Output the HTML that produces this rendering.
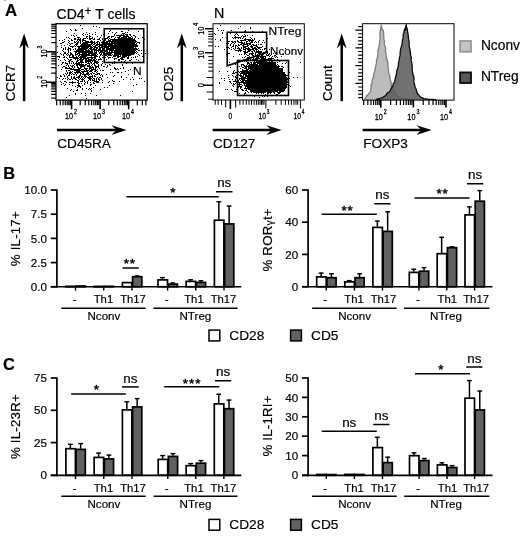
<!DOCTYPE html>
<html><head><meta charset="utf-8"><title>Figure</title>
<style>html,body{margin:0;padding:0;background:#fff}svg{display:block;will-change:transform;opacity:0.999}text{font-family:"Liberation Sans",sans-serif;fill:#000;stroke:#000;stroke-width:.18px}.tp text{stroke-width:.3px}.st{stroke-width:.42px}</style></head>
<body>
<svg width="520" height="555" viewBox="0 0 520 555">
<rect width="520" height="555" fill="#fff"/>
<text x="4.9" y="16.4" font-size="16.8" text-anchor="start" font-weight="bold" fill="#000" >A</text>
<rect x="4.4" y="0" width="1.2" height="0.9" fill="#666"/>
<text x="56.6" y="18.5" font-size="14">CD4<tspan dy="-3.6" font-size="12">+</tspan><tspan dy="3.6"> T cells</tspan></text>
<path d="M80 25.5h1M93 26.5h1M96 26.5h1M99 27.5h1M82 28.5h1M104 28.5h1M134 28.5h1M70 29.5h1M75 29.5h1M71 30.5h1M75 30.5h2M110 30.5h1M128 30.5h1M66 31.5h1M109 31.5h1M121 31.5h2M138 31.5h1M86 32.5h1M95 32.5h1M112 32.5h1M116 32.5h1M125 32.5h1M127 32.5h1M74 33.5h1M83 33.5h1M89 33.5h1M108 33.5h1M115 33.5h1M122 33.5h3M82 34.5h1M85 34.5h1M87 34.5h1M92 34.5h1M95 34.5h1M103 34.5h1M114 34.5h1M121 34.5h1M123 34.5h1M125 34.5h3M129 34.5h2M71 35.5h1M73 35.5h1M76 35.5h1M83 35.5h1M89 35.5h1M101 35.5h1M114 35.5h1M116 35.5h9M126 35.5h2M130 35.5h1M133 35.5h2M74 36.5h1M86 36.5h2M89 36.5h2M97 36.5h1M104 36.5h1M108 36.5h2M111 36.5h3M119 36.5h2M123 36.5h6M131 36.5h1M135 36.5h1M66 37.5h1M68 37.5h1M77 37.5h3M86 37.5h1M89 37.5h1M92 37.5h1M100 37.5h1M107 37.5h2M111 37.5h1M115 37.5h1M117 37.5h3M121 37.5h6M128 37.5h3M132 37.5h1M135 37.5h1M142 37.5h1M69 38.5h1M74 38.5h2M78 38.5h1M80 38.5h1M83 38.5h3M87 38.5h1M89 38.5h4M94 38.5h1M99 38.5h1M102 38.5h1M105 38.5h3M109 38.5h1M114 38.5h1M118 38.5h15M134 38.5h1M138 38.5h1M64 39.5h1M71 39.5h1M74 39.5h2M77 39.5h4M82 39.5h2M89 39.5h2M93 39.5h2M97 39.5h3M102 39.5h1M105 39.5h1M108 39.5h1M110 39.5h25M144 39.5h1M59 40.5h1M62 40.5h1M68 40.5h1M71 40.5h2M77 40.5h1M79 40.5h2M82 40.5h4M91 40.5h1M100 40.5h1M103 40.5h1M105 40.5h1M108 40.5h3M112 40.5h24M64 41.5h1M69 41.5h1M74 41.5h1M76 41.5h1M78 41.5h1M80 41.5h1M82 41.5h1M85 41.5h4M90 41.5h3M94 41.5h1M97 41.5h2M102 41.5h2M106 41.5h31M62 42.5h2M68 42.5h1M74 42.5h2M77 42.5h2M80 42.5h1M83 42.5h12M96 42.5h2M99 42.5h1M101 42.5h3M105 42.5h3M109 42.5h1M111 42.5h25M137 42.5h3M60 43.5h2M69 43.5h1M71 43.5h2M76 43.5h2M80 43.5h1M82 43.5h6M91 43.5h2M94 43.5h2M97 43.5h1M99 43.5h1M102 43.5h33M136 43.5h1M139 43.5h1M67 44.5h1M70 44.5h1M75 44.5h3M81 44.5h11M93 44.5h2M96 44.5h17M114 44.5h23M61 45.5h1M64 45.5h1M69 45.5h1M74 45.5h1M76 45.5h1M80 45.5h11M92 45.5h1M95 45.5h3M99 45.5h4M104 45.5h3M108 45.5h30M57 46.5h1M70 46.5h4M75 46.5h1M77 46.5h15M93 46.5h3M98 46.5h2M101 46.5h37M61 47.5h1M65 47.5h1M68 47.5h1M72 47.5h1M78 47.5h2M81 47.5h8M90 47.5h3M94 47.5h4M99 47.5h4M104 47.5h5M110 47.5h24M135 47.5h1M63 48.5h1M65 48.5h1M68 48.5h3M75 48.5h1M78 48.5h10M89 48.5h3M93 48.5h2M96 48.5h2M99 48.5h2M102 48.5h3M106 48.5h31M138 48.5h1M63 49.5h1M65 49.5h1M67 49.5h2M70 49.5h1M73 49.5h1M75 49.5h1M77 49.5h10M88 49.5h1M90 49.5h7M98 49.5h3M102 49.5h3M106 49.5h8M115 49.5h23M62 50.5h1M68 50.5h1M70 50.5h1M76 50.5h8M85 50.5h5M91 50.5h2M94 50.5h10M105 50.5h3M109 50.5h27M138 50.5h2M141 50.5h1M143 50.5h1M63 51.5h1M68 51.5h1M74 51.5h19M94 51.5h1M96 51.5h1M98 51.5h1M100 51.5h3M104 51.5h4M109 51.5h1M111 51.5h2M114 51.5h21M136 51.5h1M143 51.5h1M57 52.5h1M64 52.5h2M68 52.5h1M70 52.5h1M75 52.5h2M78 52.5h15M94 52.5h3M99 52.5h6M106 52.5h30M137 52.5h1M60 53.5h1M64 53.5h2M67 53.5h1M70 53.5h2M75 53.5h1M77 53.5h3M82 53.5h5M88 53.5h9M99 53.5h1M101 53.5h1M103 53.5h1M105 53.5h7M114 53.5h21M136 53.5h1M141 53.5h1M145 53.5h1M61 54.5h1M63 54.5h1M66 54.5h1M68 54.5h1M70 54.5h3M75 54.5h3M79 54.5h11M91 54.5h5M97 54.5h1M100 54.5h2M103 54.5h8M112 54.5h1M114 54.5h20M138 54.5h1M63 55.5h1M67 55.5h1M69 55.5h2M72 55.5h2M75 55.5h1M78 55.5h2M81 55.5h16M100 55.5h1M102 55.5h1M105 55.5h2M108 55.5h4M113 55.5h6M120 55.5h1M122 55.5h9M139 55.5h1M57 56.5h3M64 56.5h1M69 56.5h1M72 56.5h2M76 56.5h1M78 56.5h1M80 56.5h7M91 56.5h1M94 56.5h4M99 56.5h1M107 56.5h1M113 56.5h3M117 56.5h4M122 56.5h5M128 56.5h1M135 56.5h1M137 56.5h1M142 56.5h1M59 57.5h1M63 57.5h2M66 57.5h1M69 57.5h9M79 57.5h7M87 57.5h9M99 57.5h1M102 57.5h4M108 57.5h3M112 57.5h1M117 57.5h2M121 57.5h4M127 57.5h2M131 57.5h1M133 57.5h1M135 57.5h1M67 58.5h1M73 58.5h6M80 58.5h2M83 58.5h6M91 58.5h2M94 58.5h2M100 58.5h1M108 58.5h1M114 58.5h3M120 58.5h3M127 58.5h2M58 59.5h1M64 59.5h1M68 59.5h1M70 59.5h2M75 59.5h1M77 59.5h1M79 59.5h5M85 59.5h2M88 59.5h4M93 59.5h2M96 59.5h1M98 59.5h4M104 59.5h1M106 59.5h1M114 59.5h1M118 59.5h2M121 59.5h3M131 59.5h1M136 59.5h1M60 60.5h1M65 60.5h1M69 60.5h2M77 60.5h2M80 60.5h3M85 60.5h11M98 60.5h1M118 60.5h2M125 60.5h1M129 60.5h2M138 60.5h1M68 61.5h2M71 61.5h2M76 61.5h2M80 61.5h3M85 61.5h6M92 61.5h1M94 61.5h4M102 61.5h1M104 61.5h1M114 61.5h1M121 61.5h1M124 61.5h1M62 62.5h2M65 62.5h1M69 62.5h1M73 62.5h1M76 62.5h1M78 62.5h6M85 62.5h2M88 62.5h1M90 62.5h2M94 62.5h5M104 62.5h1M107 62.5h1M111 62.5h1M129 62.5h1M131 62.5h1M139 62.5h1M62 63.5h1M65 63.5h3M69 63.5h1M71 63.5h1M73 63.5h1M75 63.5h5M81 63.5h1M87 63.5h3M91 63.5h1M93 63.5h2M96 63.5h2M102 63.5h1M112 63.5h1M114 63.5h1M126 63.5h1M132 63.5h1M61 64.5h1M67 64.5h1M74 64.5h1M76 64.5h8M85 64.5h2M89 64.5h1M92 64.5h1M94 64.5h1M98 64.5h1M101 64.5h1M105 64.5h1M109 64.5h1M122 64.5h1M58 65.5h1M66 65.5h1M68 65.5h1M70 65.5h1M72 65.5h2M76 65.5h2M79 65.5h7M87 65.5h3M91 65.5h1M94 65.5h2M98 65.5h1M101 65.5h1M107 65.5h1M110 65.5h1M122 65.5h1M63 66.5h2M68 66.5h1M71 66.5h2M74 66.5h1M77 66.5h1M80 66.5h5M87 66.5h4M92 66.5h1M95 66.5h4M103 66.5h2M107 66.5h1M62 67.5h1M65 67.5h2M69 67.5h1M72 67.5h1M74 67.5h1M77 67.5h2M80 67.5h2M84 67.5h1M89 67.5h5M95 67.5h2M98 67.5h1M106 67.5h1M114 67.5h1M123 67.5h1M135 67.5h1M65 68.5h7M73 68.5h1M78 68.5h3M84 68.5h4M89 68.5h3M93 68.5h1M95 68.5h1M99 68.5h1M114 68.5h2M117 68.5h1M120 68.5h1M123 68.5h1M61 69.5h1M70 69.5h10M81 69.5h3M85 69.5h2M89 69.5h1M91 69.5h5M97 69.5h1M110 69.5h1M115 69.5h2M118 69.5h1M130 69.5h1M66 70.5h1M68 70.5h2M74 70.5h7M84 70.5h1M86 70.5h3M90 70.5h3M95 70.5h2M100 70.5h1M102 70.5h2M128 70.5h1M66 71.5h1M70 71.5h1M72 71.5h1M76 71.5h4M81 71.5h7M89 71.5h3M94 71.5h2M97 71.5h1M125 71.5h1M67 72.5h1M69 72.5h3M74 72.5h7M82 72.5h2M87 72.5h2M92 72.5h1M96 72.5h1M110 72.5h1M112 72.5h1M117 72.5h2M121 72.5h1M65 73.5h1M67 73.5h1M69 73.5h2M72 73.5h1M75 73.5h1M77 73.5h1M80 73.5h2M83 73.5h1M86 73.5h3M90 73.5h2M93 73.5h2M97 73.5h3M63 74.5h1M66 74.5h1M69 74.5h1M71 74.5h1M73 74.5h2M76 74.5h1M80 74.5h1M82 74.5h8M91 74.5h1M95 74.5h3M99 74.5h1M101 74.5h1M106 74.5h1M128 74.5h1M60 75.5h1M64 75.5h1M68 75.5h2M76 75.5h1M79 75.5h2M84 75.5h2M88 75.5h1M92 75.5h1M94 75.5h1M100 75.5h1M102 75.5h1M114 75.5h1M60 76.5h2M64 76.5h1M67 76.5h1M71 76.5h1M74 76.5h1M78 76.5h2M81 76.5h2M84 76.5h3M89 76.5h4M94 76.5h2M102 76.5h1M113 76.5h1M121 76.5h1M57 77.5h1M67 77.5h1M71 77.5h1M73 77.5h2M76 77.5h4M81 77.5h1M83 77.5h1M85 77.5h1M87 77.5h4M92 77.5h1M97 77.5h1M99 77.5h2M107 77.5h1M121 77.5h1M126 77.5h1M132 77.5h1M59 78.5h1M63 78.5h1M65 78.5h1M68 78.5h1M71 78.5h1M73 78.5h3M78 78.5h1M80 78.5h1M82 78.5h1M84 78.5h1M88 78.5h4M93 78.5h2M96 78.5h1M98 78.5h1M101 78.5h1M139 78.5h1M141 78.5h1M62 79.5h1M67 79.5h1M69 79.5h2M72 79.5h1M75 79.5h2M79 79.5h1M81 79.5h3M89 79.5h2M92 79.5h1M94 79.5h1M96 79.5h1M98 79.5h2M101 79.5h1M123 79.5h1M130 79.5h1M133 79.5h1M77 80.5h2M82 80.5h1M84 80.5h1M88 80.5h1M90 80.5h1M92 80.5h3M96 80.5h1M99 80.5h1M102 80.5h1M112 80.5h1M60 81.5h1M64 81.5h2M72 81.5h1M78 81.5h1M80 81.5h3M84 81.5h1M87 81.5h1M94 81.5h5M109 81.5h1M113 81.5h2M119 81.5h1M144 81.5h1M61 82.5h1M66 82.5h1M69 82.5h7M77 82.5h2M85 82.5h1M87 82.5h1M90 82.5h1M93 82.5h1M96 82.5h3M102 82.5h1M108 82.5h1M63 83.5h1M72 83.5h1M78 83.5h2M81 83.5h1M84 83.5h1M87 83.5h1M93 83.5h2M113 83.5h1M61 84.5h1M65 84.5h1M69 84.5h1M78 84.5h1M84 84.5h1M90 84.5h2M136 84.5h1M64 85.5h1M72 85.5h1M77 85.5h3M82 85.5h1M90 85.5h1M95 85.5h1M109 85.5h1M133 85.5h1M75 86.5h1M78 86.5h3M77 87.5h1M80 87.5h1M93 87.5h1M104 87.5h1M107 87.5h1M67 88.5h1M82 88.5h1M86 88.5h1M89 88.5h1M91 88.5h1M71 89.5h1M77 89.5h1M82 89.5h1M88 89.5h1M90 89.5h1M100 89.5h1M70 90.5h1M76 90.5h2M91 90.5h1M73 91.5h1M91 91.5h1M132 91.5h1M75 93.5h1M81 93.5h1M85 93.5h1M90 93.5h1M75 94.5h1M69 95.5h1M85 95.5h1M96 95.5h1M120 95.5h1M66 97.5h1M86 98.5h1" stroke="#000" stroke-width="1" fill="none" shape-rendering="crispEdges"/>
<rect x="56.0" y="23.7" width="91.2" height="76.4" fill="none" stroke="#000" stroke-width="1.25"/>
<rect x="104.25" y="28.75" width="39.5" height="33.75" fill="none" stroke="#000" stroke-width="1.6"/>
<g transform="translate(132.9 75.1) scale(1.12 1)"><text x="0" y="0" font-size="10.7">N</text></g>
<path d="M56.67 100.1v5.2M60.24 100.1v5.2M63.01 100.1v5.2M65.27 100.1v5.2M67.18 100.1v5.2M68.83 100.1v5.2M70.29 100.1v5.2M80.19 100.1v5.2M85.22 100.1v5.2M88.79 100.1v5.2M91.56 100.1v5.2M93.82 100.1v5.2M95.73 100.1v5.2M97.38 100.1v5.2M98.84 100.1v5.2M108.74 100.1v5.2M113.77 100.1v5.2M117.34 100.1v5.2M120.11 100.1v5.2M122.37 100.1v5.2M124.28 100.1v5.2M125.93 100.1v5.2M127.39 100.1v5.2M137.29 100.1v5.2M142.32 100.1v5.2M145.89 100.1v5.2" stroke="#000" stroke-width="1.2" fill="none"/>
<path d="M71.6 100.1v9.2M100.15 100.1v9.2M128.7 100.1v9.2" stroke="#000" stroke-width="1.6" fill="none"/>
<path d="M56 98.1h-4.8M56 94.3h-4.8M56 91.35h-4.8M56 88.94h-4.8M56 86.91h-4.8M56 85.15h-4.8M56 83.59h-4.8M56 73.05h-4.8M56 67.7h-4.8M56 63.9h-4.8M56 60.95h-4.8M56 58.54h-4.8M56 56.51h-4.8M56 54.75h-4.8M56 53.19h-4.8M56 42.65h-4.8M56 37.3h-4.8M56 33.5h-4.8M56 30.55h-4.8M56 28.14h-4.8M56 26.11h-4.8M56 24.35h-4.8" stroke="#000" stroke-width="1.2" fill="none"/>
<path d="M56 82.2h-9.8M56 51.8h-9.8" stroke="#000" stroke-width="1.6" fill="none"/>
<g class="tp" transform="translate(69 119.3) scale(0.77 1)"><text x="0" y="0" font-size="9.5" text-anchor="middle">10</text><text x="6.48" y="-5.32" font-size="6.84">2</text></g>
<g class="tp" transform="translate(97.1 119.3) scale(0.77 1)"><text x="0" y="0" font-size="9.5" text-anchor="middle">10</text><text x="6.48" y="-5.32" font-size="6.84">3</text></g>
<g class="tp" transform="translate(126.1 119.3) scale(0.77 1)"><text x="0" y="0" font-size="9.5" text-anchor="middle">10</text><text x="6.48" y="-5.32" font-size="6.84">4</text></g>
<g class="tp" transform="translate(47.3 53.5) rotate(-90) scale(0.77 1)"><text x="0" y="0" font-size="9.5" text-anchor="middle">10</text><text x="6.48" y="-5.32" font-size="6.84">3</text></g>
<g class="tp" transform="translate(47.3 83.7) rotate(-90) scale(0.77 1)"><text x="0" y="0" font-size="9.5" text-anchor="middle">10</text><text x="6.48" y="-5.32" font-size="6.84">2</text></g>
<line x1="24.1" y1="101.1" x2="24.1" y2="42.6" stroke="#000" stroke-width="2.5" />
<path d="M24.1 33.4L19.2 48.6L24.1 43.6L29 48.6Z" fill="#000"/>
<text x="15.3" y="101.3" font-size="13.4" text-anchor="start" transform="rotate(-90 15.3 101.3)" fill="#000" >CCR7</text>
<line x1="56.9" y1="130.1" x2="117.4" y2="130.1" stroke="#000" stroke-width="2.5" />
<path d="M126.6 130.1L111.4 125.2L116.4 130.1L111.4 135Z" fill="#000"/>
<text x="57.3" y="148.2" font-size="13.6" text-anchor="start" fill="#000" >CD45RA</text>
<text x="213.9" y="18.4" font-size="14.3" text-anchor="start" fill="#000" >N</text>
<path d="M220 25.5h1M240 26.5h1M250 27.5h1M217 28.5h1M238 28.5h1M250 28.5h1M218 30.5h1M221 30.5h1M223 30.5h1M231 30.5h1M245 30.5h1M244 31.5h2M252 31.5h1M262 31.5h1M222 32.5h1M237 32.5h1M243 32.5h1M250 32.5h1M214 33.5h1M222 33.5h1M230 33.5h1M236 33.5h1M215 34.5h1M235 34.5h1M237 34.5h1M244 34.5h1M234 35.5h1M238 35.5h1M242 35.5h1M245 35.5h1M247 35.5h1M252 35.5h1M235 36.5h1M241 36.5h1M243 36.5h3M222 37.5h1M232 37.5h1M234 37.5h7M243 37.5h1M250 37.5h1M233 38.5h1M235 38.5h1M238 38.5h1M240 38.5h1M242 38.5h1M245 38.5h1M251 38.5h1M254 38.5h1M267 38.5h1M215 39.5h1M220 39.5h1M244 39.5h7M252 39.5h1M254 39.5h1M220 40.5h1M237 40.5h1M240 40.5h6M248 40.5h6M259 40.5h1M263 40.5h1M228 41.5h2M231 41.5h2M234 41.5h2M237 41.5h2M241 41.5h1M246 41.5h2M249 41.5h1M251 41.5h2M255 41.5h1M258 41.5h1M232 42.5h2M235 42.5h1M238 42.5h5M244 42.5h1M246 42.5h1M250 42.5h3M254 42.5h1M256 42.5h1M258 42.5h1M262 42.5h1M264 42.5h1M226 43.5h1M228 43.5h1M231 43.5h1M234 43.5h1M241 43.5h4M246 43.5h5M230 44.5h1M233 44.5h1M238 44.5h1M240 44.5h2M243 44.5h5M249 44.5h2M252 44.5h2M256 44.5h1M258 44.5h1M260 44.5h2M266 44.5h1M230 45.5h1M233 45.5h1M235 45.5h2M238 45.5h2M242 45.5h2M247 45.5h2M251 45.5h1M253 45.5h4M215 46.5h1M218 46.5h1M227 46.5h1M232 46.5h2M235 46.5h1M237 46.5h1M243 46.5h5M250 46.5h3M256 46.5h2M262 46.5h1M226 47.5h1M228 47.5h1M231 47.5h1M235 47.5h1M238 47.5h1M241 47.5h1M243 47.5h3M248 47.5h1M251 47.5h2M254 47.5h2M257 47.5h5M266 47.5h1M229 48.5h1M233 48.5h1M235 48.5h1M237 48.5h3M241 48.5h1M243 48.5h1M245 48.5h5M252 48.5h5M258 48.5h2M264 48.5h3M285 48.5h1M224 49.5h1M231 49.5h1M234 49.5h1M239 49.5h2M243 49.5h3M247 49.5h7M255 49.5h3M260 49.5h1M262 49.5h1M264 49.5h1M266 49.5h1M269 49.5h1M235 50.5h7M245 50.5h1M248 50.5h3M253 50.5h2M256 50.5h1M258 50.5h1M238 51.5h1M240 51.5h1M243 51.5h3M247 51.5h3M251 51.5h2M254 51.5h1M256 51.5h6M265 51.5h3M244 52.5h4M252 52.5h1M255 52.5h7M263 52.5h2M266 52.5h2M276 52.5h1M228 53.5h2M244 53.5h2M249 53.5h5M255 53.5h1M258 53.5h3M262 53.5h1M264 53.5h1M267 53.5h1M269 53.5h1M273 53.5h1M226 54.5h1M239 54.5h1M241 54.5h1M244 54.5h1M246 54.5h1M249 54.5h1M251 54.5h2M255 54.5h1M257 54.5h1M260 54.5h1M262 54.5h2M266 54.5h1M268 54.5h2M271 54.5h1M283 54.5h1M247 55.5h2M252 55.5h2M255 55.5h5M261 55.5h2M266 55.5h3M270 55.5h1M274 55.5h2M233 56.5h1M245 56.5h1M249 56.5h1M255 56.5h11M269 56.5h1M272 56.5h1M274 56.5h1M276 56.5h1M281 56.5h1M242 57.5h1M244 57.5h1M247 57.5h2M250 57.5h1M253 57.5h1M256 57.5h3M260 57.5h4M265 57.5h1M271 57.5h1M275 57.5h1M277 57.5h1M248 58.5h1M253 58.5h1M255 58.5h5M261 58.5h5M268 58.5h6M247 59.5h2M250 59.5h1M252 59.5h6M260 59.5h12M274 59.5h1M277 59.5h1M240 60.5h1M243 60.5h1M247 60.5h2M251 60.5h1M253 60.5h1M255 60.5h5M262 60.5h6M269 60.5h1M272 60.5h4M242 61.5h1M244 61.5h1M246 61.5h1M254 61.5h1M256 61.5h11M269 61.5h1M271 61.5h2M279 61.5h1M229 62.5h1M247 62.5h2M250 62.5h2M253 62.5h23M277 62.5h1M286 62.5h1M300 62.5h1M247 63.5h3M251 63.5h1M253 63.5h3M257 63.5h19M282 63.5h1M285 63.5h1M235 64.5h1M241 64.5h3M247 64.5h1M249 64.5h9M259 64.5h17M277 64.5h1M241 65.5h1M243 65.5h2M246 65.5h1M248 65.5h29M278 65.5h1M239 66.5h1M241 66.5h1M244 66.5h36M281 66.5h2M230 67.5h1M242 67.5h2M245 67.5h2M248 67.5h31M283 67.5h1M240 68.5h1M244 68.5h3M248 68.5h35M242 69.5h1M246 69.5h3M250 69.5h33M234 70.5h1M242 70.5h6M249 70.5h34M219 71.5h1M227 71.5h1M233 71.5h1M238 71.5h1M240 71.5h43M233 72.5h1M235 72.5h2M239 72.5h1M241 72.5h44M289 72.5h1M232 73.5h3M237 73.5h1M240 73.5h45M238 74.5h1M240 74.5h1M243 74.5h4M248 74.5h38M228 75.5h1M232 75.5h1M236 75.5h1M239 75.5h3M243 75.5h1M245 75.5h44M233 76.5h1M235 76.5h1M237 76.5h1M240 76.5h4M245 76.5h41M228 77.5h1M235 77.5h3M241 77.5h5M247 77.5h40M293 77.5h1M297 77.5h1M221 78.5h1M224 78.5h1M236 78.5h1M239 78.5h49M289 78.5h1M229 79.5h1M232 79.5h1M235 79.5h1M237 79.5h1M239 79.5h1M241 79.5h4M247 79.5h41M224 80.5h1M235 80.5h1M237 80.5h2M240 80.5h1M242 80.5h45M229 81.5h2M233 81.5h6M241 81.5h3M245 81.5h44M219 82.5h1M230 82.5h1M236 82.5h52M219 83.5h1M231 83.5h1M233 83.5h1M235 83.5h1M237 83.5h1M239 83.5h1M243 83.5h44M233 84.5h2M237 84.5h5M244 84.5h1M246 84.5h42M232 85.5h1M237 85.5h1M239 85.5h1M242 85.5h1M244 85.5h43M289 85.5h1M233 86.5h1M238 86.5h4M245 86.5h42M290 86.5h1M237 87.5h2M240 87.5h2M245 87.5h1M247 87.5h40M240 88.5h1M244 88.5h42M225 89.5h1M227 89.5h1M231 89.5h1M236 89.5h1M241 89.5h2M246 89.5h1M248 89.5h37M232 90.5h1M237 90.5h1M242 90.5h2M245 90.5h2M250 90.5h35M234 91.5h3M247 91.5h1M250 91.5h28M279 91.5h5M245 92.5h1M248 92.5h1M251 92.5h1M253 92.5h13M267 92.5h5M273 92.5h2M277 92.5h4M239 93.5h1M244 93.5h2M256 93.5h1M258 93.5h1M261 93.5h1M263 93.5h1M267 93.5h2M270 93.5h1M274 93.5h1M278 93.5h2M244 94.5h1M265 94.5h1M267 94.5h1M276 94.5h2M239 95.5h1M249 95.5h1M255 95.5h1M274 95.5h1M254 96.5h1M262 96.5h1M264 96.5h1M267 96.5h1M259 97.5h1" stroke="#000" stroke-width="1" fill="none" shape-rendering="crispEdges"/>
<rect x="213" y="23.75" width="91.3" height="76.25" fill="none" stroke="#000" stroke-width="1"/>
<path d="M227.2 32.3H266.6V52.5L227.2 65.8Z" fill="none" stroke="#000" stroke-width="1.6" stroke-linejoin="miter"/>
<rect x="237.5" y="60.5" width="51" height="35" fill="none" stroke="#000" stroke-width="1.6"/>
<g transform="translate(268.5 34.6) scale(1.12 1)"><text x="0" y="0" font-size="10.7">NTreg</text></g>
<g transform="translate(270.1 55.2) scale(1.085 1)"><text x="0" y="0" font-size="10.7">Nconv</text></g>
<path d="M215.2 100v4.8M218.1 100v4.8M221.5 100v4.8M239.9 100v4.8M243.1 100v4.8M246.3 100v4.8M249 100v4.8M251.5 100v4.8M254.1 100v4.8M256.4 100v4.8M258.3 100v4.8M260 100v4.8M261.5 100v4.8M262.8 100v4.8M264 100v4.8M275.9 100v4.8M281.2 100v4.8M285.4 100v4.8M288.6 100v4.8M291.3 100v4.8M293.9 100v4.8M296 100v4.8M297.7 100v4.8M225.7 100v7.5M235.7 100v7.5M230.4 100v8.5M265.9 100v8.5M300.4 100v8.5" stroke="#000" stroke-width="1" fill="none"/>
<path d="M230.4 100v9" stroke="#000" stroke-width="1.6"/>
<g class="tp" transform="translate(230.3 119) scale(0.72 1)"><text x="0" y="0" font-size="9.2" text-anchor="middle">0</text></g>
<g class="tp" transform="translate(262.3 119) scale(0.72 1)"><text x="0" y="0" font-size="9.2" text-anchor="middle">10</text><text x="6.32" y="-5.15" font-size="6.62">3</text></g>
<g class="tp" transform="translate(297.2 119) scale(0.72 1)"><text x="0" y="0" font-size="9.2" text-anchor="middle">10</text><text x="6.32" y="-5.15" font-size="6.62">4</text></g>
<path d="M213 31.6h-4.8M213 34.2h-4.8M213 36.4h-4.8M213 39h-4.8M213 42h-4.8M213 45.8h-4.8M213 56.6h-4.8M213 60.4h-4.8M213 63.8h-4.8M213 67.2h-4.8M213 71.1h-4.8M213 99.2h-4.8M213 77.5h-6.5M213 92h-6.5" stroke="#000" stroke-width="1" fill="none"/>
<path d="M213 28.7h-8M213 52.7h-8M213 85.2h-9.6" stroke="#000" stroke-width="1.6"/>
<g class="tp" transform="translate(203.6 30.8) rotate(-90) scale(0.77 1)"><text x="0" y="0" font-size="9.5" text-anchor="middle">10</text><text x="6.48" y="-5.32" font-size="6.84">4</text></g>
<g class="tp" transform="translate(203.6 54.8) rotate(-90) scale(0.77 1)"><text x="0" y="0" font-size="9.5" text-anchor="middle">10</text><text x="6.48" y="-5.32" font-size="6.84">3</text></g>
<g class="tp" transform="translate(203.6 85.2) rotate(-90) scale(0.77 1)"><text x="0" y="0" font-size="9.5" text-anchor="middle">0</text></g>
<line x1="181.8" y1="101.2" x2="181.8" y2="42.6" stroke="#000" stroke-width="2.5" />
<path d="M181.8 33.4L176.9 48.6L181.8 43.6L186.7 48.6Z" fill="#000"/>
<text x="173" y="101" font-size="13.4" text-anchor="start" transform="rotate(-90 173 101)" fill="#000" >CD25</text>
<line x1="212.6" y1="130.1" x2="272.4" y2="130.1" stroke="#000" stroke-width="2.5" />
<path d="M281.6 130.1L266.4 125.2L271.4 130.1L266.4 135Z" fill="#000"/>
<text x="213" y="147.8" font-size="13.6" text-anchor="start" fill="#000" >CD127</text>
<path d="M364.5 99.3L365.25 98.25L366 97.2L366.45 96.5L366.44 95.34L367.78 95.84L367.55 95.48L368.63 93.9L369.56 92.72L369.63 92.63L370.12 91.95L370.81 91.35L370.66 89.56L371.37 87.04L370.85 86.33L371.38 83.87L372.23 83.05L372.17 82.18L372.08 80.86L372.86 77.73L373.58 77.16L373.48 74.98L373.98 73.53L374.74 70.3L375.16 68.78L375.35 68.11L375.42 67.06L376.22 64.3L376.48 63.21L376.43 60.58L377.02 58.63L377.51 57.55L377.47 56.72L377.92 53.12L377.85 50.83L378.73 48.32L379.16 45.48L379.29 44.37L379.61 44.12L379.62 41.53L380.22 38.01L379.81 34.02L380.24 30.46L380.79 28.78L381.09 24.94L381.79 28.02L382.61 29.87L382.04 30.33L382.83 30.21L383.05 30.27L383.2 30.3L383.54 32.14L383.66 33.67L383.74 35.99L383.88 39.16L384.6 41.31L384.17 43.95L384.58 45.62L384.98 46.29L385.75 48.26L385.33 50.13L385.88 52.93L386.35 57.64L386.67 58.63L387.39 60.1L387.47 62L387.85 62.97L387.98 66.37L388.24 70.03L388.85 73.36L389.69 75.7L390.19 79.46L391.13 82.18L391.24 85.32L392.2 87.99L392.77 88.82L394.08 90.55L394.16 92.51L395.32 94.32L397.1 96.1L398.7 97.4L400.85 98.05L403 98.7L406.5 99.05L410 99.4L410 100L364.5 100Z" fill="#bcbcbc" fill-opacity="1" stroke="none"/>
<path d="M364.5 99.3L365.25 98.25L366 97.2L366.45 96.5L366.44 95.34L367.78 95.84L367.55 95.48L368.63 93.9L369.56 92.72L369.63 92.63L370.12 91.95L370.81 91.35L370.66 89.56L371.37 87.04L370.85 86.33L371.38 83.87L372.23 83.05L372.17 82.18L372.08 80.86L372.86 77.73L373.58 77.16L373.48 74.98L373.98 73.53L374.74 70.3L375.16 68.78L375.35 68.11L375.42 67.06L376.22 64.3L376.48 63.21L376.43 60.58L377.02 58.63L377.51 57.55L377.47 56.72L377.92 53.12L377.85 50.83L378.73 48.32L379.16 45.48L379.29 44.37L379.61 44.12L379.62 41.53L380.22 38.01L379.81 34.02L380.24 30.46L380.79 28.78L381.09 24.94L381.79 28.02L382.61 29.87L382.04 30.33L382.83 30.21L383.05 30.27L383.2 30.3L383.54 32.14L383.66 33.67L383.74 35.99L383.88 39.16L384.6 41.31L384.17 43.95L384.58 45.62L384.98 46.29L385.75 48.26L385.33 50.13L385.88 52.93L386.35 57.64L386.67 58.63L387.39 60.1L387.47 62L387.85 62.97L387.98 66.37L388.24 70.03L388.85 73.36L389.69 75.7L390.19 79.46L391.13 82.18L391.24 85.32L392.2 87.99L392.77 88.82L394.08 90.55L394.16 92.51L395.32 94.32L397.1 96.1L398.7 97.4L400.85 98.05L403 98.7L406.5 99.05L410 99.4" fill="none" stroke="#7e7e7e" stroke-width="1.3" stroke-linejoin="round"/>
<path d="M376 99.5L378 99L380 98.5L381.4 97.9L382.8 97.3L384.15 96.4L385.9 95.52L386.68 93.9L387.1 93.32L388.32 92.28L389.43 92.06L390.41 90.22L390.94 88.92L392.19 86.81L392.92 86.12L393.16 83.66L394.58 82.14L395.25 78.47L395.8 76.49L396.4 74.36L396.86 70.5L397.52 68.65L398.4 66.12L398.34 63.77L399.09 60.55L399.53 57.24L400.17 55.39L400.12 52.29L400.68 49.23L401 47.77L402.05 44.33L402.32 41.19L402.87 39.25L403.19 36.53L403.19 34.28L404.03 32.5L403.9 31.36L404.61 29.4L404.43 28.84L404.6 28.84L405.64 30.2L405.51 26.49L406.46 24.78L406.36 25.81L406.61 27.29L407.42 29.14L407.43 30.91L408.18 34.95L408.65 39.39L409.16 42.02L409.01 44.1L409.26 46.93L409.88 49.14L410.4 52.33L410.6 55.14L411.34 57.78L410.93 59.79L411.82 62.89L412.23 66.02L412.19 68.79L412.31 70.59L412.81 73.58L413.77 76.95L414.04 79.19L413.66 81.19L414.65 84.82L415.08 87.07L416.21 89.27L416.82 92.14L417.52 93.69L418.39 94.44L419.65 96.15L420.9 97.3L422.45 97.95L424 98.6L426 98.9L428 99.2L432 99.4L436 99.6L436 100L376 100Z" fill="#5a5a5a" fill-opacity="0.86" stroke="none"/>
<path d="M376 99.5L378 99L380 98.5L381.4 97.9L382.8 97.3L384.15 96.4L385.9 95.52L386.68 93.9L387.1 93.32L388.32 92.28L389.43 92.06L390.41 90.22L390.94 88.92L392.19 86.81L392.92 86.12L393.16 83.66L394.58 82.14L395.25 78.47L395.8 76.49L396.4 74.36L396.86 70.5L397.52 68.65L398.4 66.12L398.34 63.77L399.09 60.55L399.53 57.24L400.17 55.39L400.12 52.29L400.68 49.23L401 47.77L402.05 44.33L402.32 41.19L402.87 39.25L403.19 36.53L403.19 34.28L404.03 32.5L403.9 31.36L404.61 29.4L404.43 28.84L404.6 28.84L405.64 30.2L405.51 26.49L406.46 24.78L406.36 25.81L406.61 27.29L407.42 29.14L407.43 30.91L408.18 34.95L408.65 39.39L409.16 42.02L409.01 44.1L409.26 46.93L409.88 49.14L410.4 52.33L410.6 55.14L411.34 57.78L410.93 59.79L411.82 62.89L412.23 66.02L412.19 68.79L412.31 70.59L412.81 73.58L413.77 76.95L414.04 79.19L413.66 81.19L414.65 84.82L415.08 87.07L416.21 89.27L416.82 92.14L417.52 93.69L418.39 94.44L419.65 96.15L420.9 97.3L422.45 97.95L424 98.6L426 98.9L428 99.2L432 99.4L436 99.6" fill="none" stroke="#0c0c0c" stroke-width="1.3" stroke-linejoin="round"/>
<rect x="362.6" y="23.7" width="91.4" height="76.39999999999999" fill="none" stroke="#000" stroke-width="1"/>
<path d="M363.75 100.1v5M367.83 100.1v5M370.99 100.1v5M373.57 100.1v5M375.75 100.1v5M377.64 100.1v5M379.31 100.1v5M390.61 100.1v5M396.35 100.1v5M400.43 100.1v5M403.59 100.1v5M406.17 100.1v5M408.35 100.1v5M410.24 100.1v5M411.91 100.1v5M423.21 100.1v5M428.95 100.1v5M433.03 100.1v5M436.19 100.1v5M438.77 100.1v5M440.95 100.1v5M442.84 100.1v5M444.51 100.1v5" stroke="#000" stroke-width="1.2" fill="none"/>
<path d="M380.8 100.1v7.4M413.4 100.1v7.4M446 100.1v7.4" stroke="#000" stroke-width="1.6" fill="none"/>
<g class="tp" transform="translate(378.8 119.6) scale(0.77 1)"><text x="0" y="0" font-size="9.5" text-anchor="middle">10</text><text x="6.48" y="-5.32" font-size="6.84">2</text></g>
<g class="tp" transform="translate(411.4 119.6) scale(0.77 1)"><text x="0" y="0" font-size="9.5" text-anchor="middle">10</text><text x="6.48" y="-5.32" font-size="6.84">3</text></g>
<g class="tp" transform="translate(444 119.6) scale(0.77 1)"><text x="0" y="0" font-size="9.5" text-anchor="middle">10</text><text x="6.48" y="-5.32" font-size="6.84">4</text></g>
<path d="M362.6 30.2h-7.2M362.6 33.75h-4.4M362.6 37.3h-4.4M362.6 40.85h-4.4M362.6 44.4h-4.4M362.6 47.95h-7.2M362.6 51.5h-4.4M362.6 55.05h-4.4M362.6 58.6h-4.4M362.6 62.15h-4.4M362.6 65.7h-7.2M362.6 69.25h-4.4M362.6 72.8h-4.4M362.6 76.35h-4.4M362.6 79.9h-4.4M362.6 83.45h-7.2M362.6 87h-4.4M362.6 90.55h-4.4M362.6 94.1h-4.4M362.6 97.65h-4.4M362.6 26.6h-4.4" stroke="#000" stroke-width="1.2" fill="none"/>
<line x1="341.7" y1="101.2" x2="341.7" y2="42.6" stroke="#000" stroke-width="2.5" />
<path d="M341.7 33.4L336.8 48.6L341.7 43.6L346.6 48.6Z" fill="#000"/>
<text x="332" y="101" font-size="13.4" text-anchor="start" transform="rotate(-90 332 101)" fill="#000" >Count</text>
<line x1="362.6" y1="130.1" x2="422.4" y2="130.1" stroke="#000" stroke-width="2.5" />
<path d="M431.6 130.1L416.4 125.2L421.4 130.1L416.4 135Z" fill="#000"/>
<text x="363.3" y="148.4" font-size="13.6" text-anchor="start" fill="#000" >FOXP3</text>
<rect x="460.1" y="41" width="10.9" height="10.8" fill="#c4c4c4" stroke="#989898" stroke-width="1.8"/>
<text x="480.9" y="50.3" font-size="13.8" text-anchor="start" fill="#000" >Nconv</text>
<rect x="460.1" y="72.4" width="10.9" height="10.6" fill="#575757" stroke="#0a0a0a" stroke-width="1.8"/>
<text x="480.9" y="81.3" font-size="13.8" text-anchor="start" fill="#000" >NTreg</text>
<text x="3.3" y="179.3" font-size="16.4" text-anchor="start" font-weight="bold" fill="#000" >B</text>
<rect x="65.9" y="286.3" width="9.5" height="0.5" fill="#fff" stroke="#000" stroke-width="1.7"/>
<rect x="76.1" y="286" width="9.2" height="0.75" fill="#616161" stroke="#000" stroke-width="1.7"/>
<rect x="94.15" y="286.4" width="9.5" height="0.5" fill="#fff" stroke="#000" stroke-width="1.7"/>
<rect x="104.35" y="286.3" width="9.2" height="0.5" fill="#616161" stroke="#000" stroke-width="1.7"/>
<line x1="137.15" y1="276" x2="137.15" y2="275.4" stroke="#000" stroke-width="1.5" />
<line x1="134.75" y1="276" x2="139.55" y2="276" stroke="#000" stroke-width="1.4" />
<rect x="122.4" y="282.6" width="9.5" height="4.15" fill="#fff" stroke="#000" stroke-width="1.7"/>
<rect x="132.6" y="276.7" width="9.2" height="10.05" fill="#616161" stroke="#000" stroke-width="1.7"/>
<line x1="162.45" y1="279.2" x2="162.45" y2="277" stroke="#000" stroke-width="1.5" />
<line x1="160.05" y1="277.6" x2="164.85" y2="277.6" stroke="#000" stroke-width="1.4" />
<line x1="172.75" y1="283.4" x2="172.75" y2="282.4" stroke="#000" stroke-width="1.5" />
<line x1="170.35" y1="283" x2="175.15" y2="283" stroke="#000" stroke-width="1.4" />
<rect x="158" y="279.9" width="9.5" height="6.85" fill="#fff" stroke="#000" stroke-width="1.7"/>
<rect x="168.2" y="284.1" width="9.2" height="2.65" fill="#616161" stroke="#000" stroke-width="1.7"/>
<line x1="190.6" y1="280.7" x2="190.6" y2="279.2" stroke="#000" stroke-width="1.5" />
<line x1="188.2" y1="279.8" x2="193" y2="279.8" stroke="#000" stroke-width="1.4" />
<line x1="200.9" y1="281.7" x2="200.9" y2="280.2" stroke="#000" stroke-width="1.5" />
<line x1="198.5" y1="280.8" x2="203.3" y2="280.8" stroke="#000" stroke-width="1.4" />
<rect x="186.15" y="281.4" width="9.5" height="5.35" fill="#fff" stroke="#000" stroke-width="1.7"/>
<rect x="196.35" y="282.4" width="9.2" height="4.35" fill="#616161" stroke="#000" stroke-width="1.7"/>
<line x1="218.85" y1="219.5" x2="218.85" y2="201.2" stroke="#000" stroke-width="1.5" />
<line x1="216.45" y1="201.8" x2="221.25" y2="201.8" stroke="#000" stroke-width="1.4" />
<line x1="229.15" y1="223.2" x2="229.15" y2="205.5" stroke="#000" stroke-width="1.5" />
<line x1="226.75" y1="206.1" x2="231.55" y2="206.1" stroke="#000" stroke-width="1.4" />
<rect x="214.4" y="220.2" width="9.5" height="66.55" fill="#fff" stroke="#000" stroke-width="1.7"/>
<rect x="224.6" y="223.9" width="9.2" height="62.85" fill="#616161" stroke="#000" stroke-width="1.7"/>
<line x1="56.9" y1="189.15" x2="56.9" y2="287.6" stroke="#000" stroke-width="1.7" />
<line x1="50.8" y1="286.75" x2="241.3" y2="286.75" stroke="#000" stroke-width="1.7" />
<line x1="50.8" y1="190" x2="56.9" y2="190" stroke="#000" stroke-width="1.7" />
<text x="46.9" y="194.1" font-size="11.6" text-anchor="end" fill="#000" >10.0</text>
<line x1="50.8" y1="214.2" x2="56.9" y2="214.2" stroke="#000" stroke-width="1.7" />
<text x="46.9" y="218.3" font-size="11.6" text-anchor="end" fill="#000" >7.5</text>
<line x1="50.8" y1="238.4" x2="56.9" y2="238.4" stroke="#000" stroke-width="1.7" />
<text x="46.9" y="242.5" font-size="11.6" text-anchor="end" fill="#000" >5.0</text>
<line x1="50.8" y1="262.6" x2="56.9" y2="262.6" stroke="#000" stroke-width="1.7" />
<text x="46.9" y="266.7" font-size="11.6" text-anchor="end" fill="#000" >2.5</text>
<line x1="50.8" y1="286.75" x2="56.9" y2="286.75" stroke="#000" stroke-width="1.7" />
<text x="46.9" y="290.85" font-size="11.6" text-anchor="end" fill="#000" >0.0</text>
<line x1="75.5" y1="286.75" x2="75.5" y2="290.55" stroke="#000" stroke-width="1.4" />
<line x1="103.75" y1="286.75" x2="103.75" y2="290.55" stroke="#000" stroke-width="1.4" />
<line x1="132" y1="286.75" x2="132" y2="290.55" stroke="#000" stroke-width="1.4" />
<line x1="167.6" y1="286.75" x2="167.6" y2="290.55" stroke="#000" stroke-width="1.4" />
<line x1="195.75" y1="286.75" x2="195.75" y2="290.55" stroke="#000" stroke-width="1.4" />
<line x1="224" y1="286.75" x2="224" y2="290.55" stroke="#000" stroke-width="1.4" />
<text x="20" y="238.67" font-size="13.3" text-anchor="middle" transform="rotate(-90 20 238.67)" fill="#000" letter-spacing="0.2">% IL-17+</text>
<text x="74.5" y="303.15" font-size="11.6" text-anchor="middle" fill="#000" >-</text>
<text x="103.45" y="303.15" font-size="11.3" text-anchor="middle" fill="#000" >Th1</text>
<text x="133" y="303.15" font-size="11.3" text-anchor="middle" fill="#000" >Th17</text>
<text x="166.6" y="303.15" font-size="11.6" text-anchor="middle" fill="#000" >-</text>
<text x="193.95" y="303.15" font-size="11.3" text-anchor="middle" fill="#000" >Th1</text>
<text x="223.5" y="303.15" font-size="11.3" text-anchor="middle" fill="#000" >Th17</text>
<line x1="61.3" y1="308.35" x2="145.6" y2="308.35" stroke="#000" stroke-width="1.5" />
<text x="103.95" y="319.95" font-size="11.6" text-anchor="middle" fill="#000" >Nconv</text>
<line x1="153.4" y1="308.35" x2="237.6" y2="308.35" stroke="#000" stroke-width="1.5" />
<text x="195.4" y="319.95" font-size="11.6" text-anchor="middle" fill="#000" >NTreg</text>
<line x1="122.5" y1="268" x2="138.8" y2="268" stroke="#000" stroke-width="1.5" />
<text x="129.8" y="267.7" font-size="13.5" text-anchor="middle" fill="#000" class="st" letter-spacing="0.9">**</text>
<line x1="126.5" y1="196.75" x2="218.8" y2="196.75" stroke="#000" stroke-width="1.5" />
<text x="173.4" y="197.25" font-size="13.5" text-anchor="middle" fill="#000" class="st" letter-spacing="0.9">*</text>
<line x1="216" y1="191.75" x2="232.5" y2="191.75" stroke="#000" stroke-width="1.5" />
<text x="224.25" y="187.35" font-size="13.4" text-anchor="middle" fill="#000" >ns</text>
<line x1="321.15" y1="276.2" x2="321.15" y2="272.5" stroke="#000" stroke-width="1.5" />
<line x1="318.75" y1="273.1" x2="323.55" y2="273.1" stroke="#000" stroke-width="1.4" />
<line x1="331.45" y1="277" x2="331.45" y2="273.2" stroke="#000" stroke-width="1.5" />
<line x1="329.05" y1="273.8" x2="333.85" y2="273.8" stroke="#000" stroke-width="1.4" />
<rect x="316.7" y="276.9" width="9.5" height="9.85" fill="#fff" stroke="#000" stroke-width="1.7"/>
<rect x="326.9" y="277.7" width="9.2" height="9.05" fill="#616161" stroke="#000" stroke-width="1.7"/>
<line x1="349.25" y1="281.2" x2="349.25" y2="280" stroke="#000" stroke-width="1.5" />
<line x1="346.85" y1="280.6" x2="351.65" y2="280.6" stroke="#000" stroke-width="1.4" />
<line x1="359.55" y1="277" x2="359.55" y2="273.2" stroke="#000" stroke-width="1.5" />
<line x1="357.15" y1="273.8" x2="361.95" y2="273.8" stroke="#000" stroke-width="1.4" />
<rect x="344.8" y="281.9" width="9.5" height="4.85" fill="#fff" stroke="#000" stroke-width="1.7"/>
<rect x="355" y="277.7" width="9.2" height="9.05" fill="#616161" stroke="#000" stroke-width="1.7"/>
<line x1="377.35" y1="226.7" x2="377.35" y2="220.5" stroke="#000" stroke-width="1.5" />
<line x1="374.95" y1="221.1" x2="379.75" y2="221.1" stroke="#000" stroke-width="1.4" />
<line x1="387.65" y1="230.7" x2="387.65" y2="211.2" stroke="#000" stroke-width="1.5" />
<line x1="385.25" y1="211.8" x2="390.05" y2="211.8" stroke="#000" stroke-width="1.4" />
<rect x="372.9" y="227.4" width="9.5" height="59.35" fill="#fff" stroke="#000" stroke-width="1.7"/>
<rect x="383.1" y="231.4" width="9.2" height="55.35" fill="#616161" stroke="#000" stroke-width="1.7"/>
<line x1="413.75" y1="271.7" x2="413.75" y2="268.7" stroke="#000" stroke-width="1.5" />
<line x1="411.35" y1="269.3" x2="416.15" y2="269.3" stroke="#000" stroke-width="1.4" />
<line x1="424.05" y1="270.5" x2="424.05" y2="267" stroke="#000" stroke-width="1.5" />
<line x1="421.65" y1="267.6" x2="426.45" y2="267.6" stroke="#000" stroke-width="1.4" />
<rect x="409.3" y="272.4" width="9.5" height="14.35" fill="#fff" stroke="#000" stroke-width="1.7"/>
<rect x="419.5" y="271.2" width="9.2" height="15.55" fill="#616161" stroke="#000" stroke-width="1.7"/>
<line x1="441.65" y1="253" x2="441.65" y2="236.7" stroke="#000" stroke-width="1.5" />
<line x1="439.25" y1="237.3" x2="444.05" y2="237.3" stroke="#000" stroke-width="1.4" />
<line x1="451.95" y1="247" x2="451.95" y2="246.2" stroke="#000" stroke-width="1.5" />
<line x1="449.55" y1="246.8" x2="454.35" y2="246.8" stroke="#000" stroke-width="1.4" />
<rect x="437.2" y="253.7" width="9.5" height="33.05" fill="#fff" stroke="#000" stroke-width="1.7"/>
<rect x="447.4" y="247.7" width="9.2" height="39.05" fill="#616161" stroke="#000" stroke-width="1.7"/>
<line x1="469.45" y1="214.2" x2="469.45" y2="206.2" stroke="#000" stroke-width="1.5" />
<line x1="467.05" y1="206.8" x2="471.85" y2="206.8" stroke="#000" stroke-width="1.4" />
<line x1="479.75" y1="200.5" x2="479.75" y2="190" stroke="#000" stroke-width="1.5" />
<line x1="477.35" y1="190.6" x2="482.15" y2="190.6" stroke="#000" stroke-width="1.4" />
<rect x="465" y="214.9" width="9.5" height="71.85" fill="#fff" stroke="#000" stroke-width="1.7"/>
<rect x="475.2" y="201.2" width="9.2" height="85.55" fill="#616161" stroke="#000" stroke-width="1.7"/>
<line x1="308.1" y1="189.15" x2="308.1" y2="287.6" stroke="#000" stroke-width="1.7" />
<line x1="302" y1="286.75" x2="492.5" y2="286.75" stroke="#000" stroke-width="1.7" />
<line x1="302" y1="190" x2="308.1" y2="190" stroke="#000" stroke-width="1.7" />
<text x="298.1" y="194.1" font-size="11.6" text-anchor="end" fill="#000" >60</text>
<line x1="302" y1="222.2" x2="308.1" y2="222.2" stroke="#000" stroke-width="1.7" />
<text x="298.1" y="226.3" font-size="11.6" text-anchor="end" fill="#000" >40</text>
<line x1="302" y1="254.4" x2="308.1" y2="254.4" stroke="#000" stroke-width="1.7" />
<text x="298.1" y="258.5" font-size="11.6" text-anchor="end" fill="#000" >20</text>
<line x1="302" y1="286.75" x2="308.1" y2="286.75" stroke="#000" stroke-width="1.7" />
<text x="298.1" y="290.85" font-size="11.6" text-anchor="end" fill="#000" >0</text>
<line x1="326.3" y1="286.75" x2="326.3" y2="290.55" stroke="#000" stroke-width="1.4" />
<line x1="354.4" y1="286.75" x2="354.4" y2="290.55" stroke="#000" stroke-width="1.4" />
<line x1="382.5" y1="286.75" x2="382.5" y2="290.55" stroke="#000" stroke-width="1.4" />
<line x1="418.9" y1="286.75" x2="418.9" y2="290.55" stroke="#000" stroke-width="1.4" />
<line x1="446.8" y1="286.75" x2="446.8" y2="290.55" stroke="#000" stroke-width="1.4" />
<line x1="474.6" y1="286.75" x2="474.6" y2="290.55" stroke="#000" stroke-width="1.4" />
<text x="272.4" y="239.88" font-size="13.3" text-anchor="middle" transform="rotate(-90 272.4 239.88)" fill="#000" letter-spacing="0.2">% ROR<tspan font-size="10.5" dy="1">γ</tspan><tspan dy="-1">t+</tspan></text>
<text x="325.3" y="303.15" font-size="11.6" text-anchor="middle" fill="#000" >-</text>
<text x="354.1" y="303.15" font-size="11.3" text-anchor="middle" fill="#000" >Th1</text>
<text x="383.5" y="303.15" font-size="11.3" text-anchor="middle" fill="#000" >Th17</text>
<text x="417.9" y="303.15" font-size="11.6" text-anchor="middle" fill="#000" >-</text>
<text x="447.3" y="303.15" font-size="11.3" text-anchor="middle" fill="#000" >Th1</text>
<text x="476.1" y="303.15" font-size="11.3" text-anchor="middle" fill="#000" >Th17</text>
<line x1="312.1" y1="308.35" x2="396.7" y2="308.35" stroke="#000" stroke-width="1.5" />
<text x="354.6" y="319.95" font-size="11.6" text-anchor="middle" fill="#000" >Nconv</text>
<line x1="404" y1="308.35" x2="489.4" y2="308.35" stroke="#000" stroke-width="1.5" />
<text x="445.95" y="319.95" font-size="11.6" text-anchor="middle" fill="#000" >NTreg</text>
<line x1="321.7" y1="214.25" x2="376.8" y2="214.25" stroke="#000" stroke-width="1.5" />
<text x="347.6" y="214.5" font-size="13.5" text-anchor="middle" fill="#000" class="st" letter-spacing="0.9">**</text>
<line x1="374.2" y1="203.75" x2="390.5" y2="203.75" stroke="#000" stroke-width="1.5" />
<text x="382.35" y="199.35" font-size="13.4" text-anchor="middle" fill="#000" >ns</text>
<line x1="414.5" y1="198" x2="469.5" y2="198" stroke="#000" stroke-width="1.5" />
<text x="442.55" y="198" font-size="13.5" text-anchor="middle" fill="#000" class="st" letter-spacing="0.9">**</text>
<line x1="467" y1="183.75" x2="483.3" y2="183.75" stroke="#000" stroke-width="1.5" />
<text x="475.15" y="179.35" font-size="13.4" text-anchor="middle" fill="#000" >ns</text>
<rect x="209" y="330.1" width="10.8" height="10.8" fill="#fff" stroke="#000" stroke-width="1.5"/>
<text x="229.3" y="339.9" font-size="13.7" text-anchor="start" fill="#000" >CD28</text>
<rect x="290.6" y="330.1" width="10.8" height="10.8" fill="#616161" stroke="#000" stroke-width="1.5"/>
<text x="311.1" y="339.9" font-size="13.7" text-anchor="start" fill="#000" >CD5</text>
<text x="3" y="369.8" font-size="16.4" text-anchor="start" font-weight="bold" fill="#000" >C</text>
<line x1="70.35" y1="448" x2="70.35" y2="443.7" stroke="#000" stroke-width="1.5" />
<line x1="67.95" y1="444.3" x2="72.75" y2="444.3" stroke="#000" stroke-width="1.4" />
<line x1="80.65" y1="448.7" x2="80.65" y2="443" stroke="#000" stroke-width="1.5" />
<line x1="78.25" y1="443.6" x2="83.05" y2="443.6" stroke="#000" stroke-width="1.4" />
<rect x="65.9" y="448.7" width="9.5" height="26.6" fill="#fff" stroke="#000" stroke-width="1.7"/>
<rect x="76.1" y="449.4" width="9.2" height="25.9" fill="#616161" stroke="#000" stroke-width="1.7"/>
<line x1="98.6" y1="456.7" x2="98.6" y2="452.5" stroke="#000" stroke-width="1.5" />
<line x1="96.2" y1="453.1" x2="101" y2="453.1" stroke="#000" stroke-width="1.4" />
<line x1="108.9" y1="458.2" x2="108.9" y2="454.5" stroke="#000" stroke-width="1.5" />
<line x1="106.5" y1="455.1" x2="111.3" y2="455.1" stroke="#000" stroke-width="1.4" />
<rect x="94.15" y="457.4" width="9.5" height="17.9" fill="#fff" stroke="#000" stroke-width="1.7"/>
<rect x="104.35" y="458.9" width="9.2" height="16.4" fill="#616161" stroke="#000" stroke-width="1.7"/>
<line x1="126.85" y1="409.2" x2="126.85" y2="401.2" stroke="#000" stroke-width="1.5" />
<line x1="124.45" y1="401.8" x2="129.25" y2="401.8" stroke="#000" stroke-width="1.4" />
<line x1="137.15" y1="406.2" x2="137.15" y2="398" stroke="#000" stroke-width="1.5" />
<line x1="134.75" y1="398.6" x2="139.55" y2="398.6" stroke="#000" stroke-width="1.4" />
<rect x="122.4" y="409.9" width="9.5" height="65.4" fill="#fff" stroke="#000" stroke-width="1.7"/>
<rect x="132.6" y="406.9" width="9.2" height="68.4" fill="#616161" stroke="#000" stroke-width="1.7"/>
<line x1="162.65" y1="458.7" x2="162.65" y2="455" stroke="#000" stroke-width="1.5" />
<line x1="160.25" y1="455.6" x2="165.05" y2="455.6" stroke="#000" stroke-width="1.4" />
<line x1="172.95" y1="455.7" x2="172.95" y2="453" stroke="#000" stroke-width="1.5" />
<line x1="170.55" y1="453.6" x2="175.35" y2="453.6" stroke="#000" stroke-width="1.4" />
<rect x="158.2" y="459.4" width="9.5" height="15.9" fill="#fff" stroke="#000" stroke-width="1.7"/>
<rect x="168.4" y="456.4" width="9.2" height="18.9" fill="#616161" stroke="#000" stroke-width="1.7"/>
<line x1="190.6" y1="465" x2="190.6" y2="463" stroke="#000" stroke-width="1.5" />
<line x1="188.2" y1="463.6" x2="193" y2="463.6" stroke="#000" stroke-width="1.4" />
<line x1="200.9" y1="462.5" x2="200.9" y2="460" stroke="#000" stroke-width="1.5" />
<line x1="198.5" y1="460.6" x2="203.3" y2="460.6" stroke="#000" stroke-width="1.4" />
<rect x="186.15" y="465.7" width="9.5" height="9.6" fill="#fff" stroke="#000" stroke-width="1.7"/>
<rect x="196.35" y="463.2" width="9.2" height="12.1" fill="#616161" stroke="#000" stroke-width="1.7"/>
<line x1="218.75" y1="403.2" x2="218.75" y2="393.7" stroke="#000" stroke-width="1.5" />
<line x1="216.35" y1="394.3" x2="221.15" y2="394.3" stroke="#000" stroke-width="1.4" />
<line x1="229.05" y1="408" x2="229.05" y2="399.5" stroke="#000" stroke-width="1.5" />
<line x1="226.65" y1="400.1" x2="231.45" y2="400.1" stroke="#000" stroke-width="1.4" />
<rect x="214.3" y="403.9" width="9.5" height="71.4" fill="#fff" stroke="#000" stroke-width="1.7"/>
<rect x="224.5" y="408.7" width="9.2" height="66.6" fill="#616161" stroke="#000" stroke-width="1.7"/>
<line x1="56.9" y1="377.15" x2="56.9" y2="476.15" stroke="#000" stroke-width="1.7" />
<line x1="50.8" y1="475.3" x2="241.3" y2="475.3" stroke="#000" stroke-width="1.7" />
<line x1="50.8" y1="378" x2="56.9" y2="378" stroke="#000" stroke-width="1.7" />
<text x="46.9" y="382.1" font-size="11.6" text-anchor="end" fill="#000" >75</text>
<line x1="50.8" y1="410.3" x2="56.9" y2="410.3" stroke="#000" stroke-width="1.7" />
<text x="46.9" y="414.4" font-size="11.6" text-anchor="end" fill="#000" >50</text>
<line x1="50.8" y1="442.6" x2="56.9" y2="442.6" stroke="#000" stroke-width="1.7" />
<text x="46.9" y="446.7" font-size="11.6" text-anchor="end" fill="#000" >25</text>
<line x1="50.8" y1="475.3" x2="56.9" y2="475.3" stroke="#000" stroke-width="1.7" />
<text x="46.9" y="479.4" font-size="11.6" text-anchor="end" fill="#000" >0</text>
<line x1="75.5" y1="475.3" x2="75.5" y2="479.1" stroke="#000" stroke-width="1.4" />
<line x1="103.75" y1="475.3" x2="103.75" y2="479.1" stroke="#000" stroke-width="1.4" />
<line x1="132" y1="475.3" x2="132" y2="479.1" stroke="#000" stroke-width="1.4" />
<line x1="167.8" y1="475.3" x2="167.8" y2="479.1" stroke="#000" stroke-width="1.4" />
<line x1="195.75" y1="475.3" x2="195.75" y2="479.1" stroke="#000" stroke-width="1.4" />
<line x1="223.9" y1="475.3" x2="223.9" y2="479.1" stroke="#000" stroke-width="1.4" />
<text x="20" y="426.55" font-size="13.3" text-anchor="middle" transform="rotate(-90 20 426.55)" fill="#000" letter-spacing="0.2">% IL-23R+</text>
<text x="74.5" y="491.7" font-size="11.6" text-anchor="middle" fill="#000" >-</text>
<text x="103.45" y="491.7" font-size="11.3" text-anchor="middle" fill="#000" >Th1</text>
<text x="133" y="491.7" font-size="11.3" text-anchor="middle" fill="#000" >Th17</text>
<text x="166.8" y="491.7" font-size="11.6" text-anchor="middle" fill="#000" >-</text>
<text x="193.95" y="491.7" font-size="11.3" text-anchor="middle" fill="#000" >Th1</text>
<text x="223.4" y="491.7" font-size="11.3" text-anchor="middle" fill="#000" >Th17</text>
<line x1="61.3" y1="496.3" x2="145.6" y2="496.3" stroke="#000" stroke-width="1.5" />
<text x="103.95" y="508.2" font-size="11.6" text-anchor="middle" fill="#000" >Nconv</text>
<line x1="153.6" y1="496.3" x2="237.5" y2="496.3" stroke="#000" stroke-width="1.5" />
<text x="195.45" y="508.2" font-size="11.6" text-anchor="middle" fill="#000" >NTreg</text>
<line x1="71.2" y1="394" x2="125.8" y2="394" stroke="#000" stroke-width="1.5" />
<text x="96.85" y="393.6" font-size="13.5" text-anchor="middle" fill="#000" class="st" letter-spacing="0.9">*</text>
<line x1="122" y1="386.9" x2="138.8" y2="386.9" stroke="#000" stroke-width="1.5" />
<text x="130.4" y="382.5" font-size="13.4" text-anchor="middle" fill="#000" >ns</text>
<line x1="164.2" y1="386.75" x2="219.3" y2="386.75" stroke="#000" stroke-width="1.5" />
<text x="192.1" y="388" font-size="13.5" text-anchor="middle" fill="#000" class="st" letter-spacing="0.9">***</text>
<line x1="215" y1="380.75" x2="231.3" y2="380.75" stroke="#000" stroke-width="1.5" />
<text x="223.15" y="376.35" font-size="13.4" text-anchor="middle" fill="#000" >ns</text>
<rect x="316.7" y="474.5" width="9.5" height="0.8" fill="#fff" stroke="#000" stroke-width="1.7"/>
<rect x="326.9" y="474.6" width="9.2" height="0.7" fill="#616161" stroke="#000" stroke-width="1.7"/>
<rect x="344.8" y="474.4" width="9.5" height="0.9" fill="#fff" stroke="#000" stroke-width="1.7"/>
<rect x="355" y="474.5" width="9.2" height="0.8" fill="#616161" stroke="#000" stroke-width="1.7"/>
<line x1="377.35" y1="446.9" x2="377.35" y2="436.7" stroke="#000" stroke-width="1.5" />
<line x1="374.95" y1="437.3" x2="379.75" y2="437.3" stroke="#000" stroke-width="1.4" />
<line x1="387.65" y1="461.9" x2="387.65" y2="456.6" stroke="#000" stroke-width="1.5" />
<line x1="385.25" y1="457.2" x2="390.05" y2="457.2" stroke="#000" stroke-width="1.4" />
<rect x="372.9" y="447.6" width="9.5" height="27.7" fill="#fff" stroke="#000" stroke-width="1.7"/>
<rect x="383.1" y="462.6" width="9.2" height="12.7" fill="#616161" stroke="#000" stroke-width="1.7"/>
<line x1="413.95" y1="455" x2="413.95" y2="452.3" stroke="#000" stroke-width="1.5" />
<line x1="411.55" y1="452.9" x2="416.35" y2="452.9" stroke="#000" stroke-width="1.4" />
<line x1="424.25" y1="459.9" x2="424.25" y2="457.9" stroke="#000" stroke-width="1.5" />
<line x1="421.85" y1="458.5" x2="426.65" y2="458.5" stroke="#000" stroke-width="1.4" />
<rect x="409.5" y="455.7" width="9.5" height="19.6" fill="#fff" stroke="#000" stroke-width="1.7"/>
<rect x="419.7" y="460.6" width="9.2" height="14.7" fill="#616161" stroke="#000" stroke-width="1.7"/>
<line x1="441.85" y1="464.2" x2="441.85" y2="462.2" stroke="#000" stroke-width="1.5" />
<line x1="439.45" y1="462.8" x2="444.25" y2="462.8" stroke="#000" stroke-width="1.4" />
<line x1="452.15" y1="466.8" x2="452.15" y2="465" stroke="#000" stroke-width="1.5" />
<line x1="449.75" y1="465.6" x2="454.55" y2="465.6" stroke="#000" stroke-width="1.4" />
<rect x="437.4" y="464.9" width="9.5" height="10.4" fill="#fff" stroke="#000" stroke-width="1.7"/>
<rect x="447.6" y="467.5" width="9.2" height="7.8" fill="#616161" stroke="#000" stroke-width="1.7"/>
<line x1="469.45" y1="397.5" x2="469.45" y2="380" stroke="#000" stroke-width="1.5" />
<line x1="467.05" y1="380.6" x2="471.85" y2="380.6" stroke="#000" stroke-width="1.4" />
<line x1="479.75" y1="409.2" x2="479.75" y2="390.5" stroke="#000" stroke-width="1.5" />
<line x1="477.35" y1="391.1" x2="482.15" y2="391.1" stroke="#000" stroke-width="1.4" />
<rect x="465" y="398.2" width="9.5" height="77.1" fill="#fff" stroke="#000" stroke-width="1.7"/>
<rect x="475.2" y="409.9" width="9.2" height="65.4" fill="#616161" stroke="#000" stroke-width="1.7"/>
<line x1="308.1" y1="377.15" x2="308.1" y2="476.15" stroke="#000" stroke-width="1.7" />
<line x1="302" y1="475.3" x2="492.5" y2="475.3" stroke="#000" stroke-width="1.7" />
<line x1="302" y1="378" x2="308.1" y2="378" stroke="#000" stroke-width="1.7" />
<text x="298.1" y="382.1" font-size="11.6" text-anchor="end" fill="#000" >50</text>
<line x1="302" y1="397.4" x2="308.1" y2="397.4" stroke="#000" stroke-width="1.7" />
<text x="298.1" y="401.5" font-size="11.6" text-anchor="end" fill="#000" >40</text>
<line x1="302" y1="416.8" x2="308.1" y2="416.8" stroke="#000" stroke-width="1.7" />
<text x="298.1" y="420.9" font-size="11.6" text-anchor="end" fill="#000" >30</text>
<line x1="302" y1="436.2" x2="308.1" y2="436.2" stroke="#000" stroke-width="1.7" />
<text x="298.1" y="440.3" font-size="11.6" text-anchor="end" fill="#000" >20</text>
<line x1="302" y1="455.6" x2="308.1" y2="455.6" stroke="#000" stroke-width="1.7" />
<text x="298.1" y="459.7" font-size="11.6" text-anchor="end" fill="#000" >10</text>
<line x1="302" y1="475.3" x2="308.1" y2="475.3" stroke="#000" stroke-width="1.7" />
<text x="298.1" y="479.4" font-size="11.6" text-anchor="end" fill="#000" >0</text>
<line x1="326.3" y1="475.3" x2="326.3" y2="479.1" stroke="#000" stroke-width="1.4" />
<line x1="354.4" y1="475.3" x2="354.4" y2="479.1" stroke="#000" stroke-width="1.4" />
<line x1="382.5" y1="475.3" x2="382.5" y2="479.1" stroke="#000" stroke-width="1.4" />
<line x1="419.1" y1="475.3" x2="419.1" y2="479.1" stroke="#000" stroke-width="1.4" />
<line x1="447" y1="475.3" x2="447" y2="479.1" stroke="#000" stroke-width="1.4" />
<line x1="474.6" y1="475.3" x2="474.6" y2="479.1" stroke="#000" stroke-width="1.4" />
<text x="272.4" y="425.95" font-size="13.3" text-anchor="middle" transform="rotate(-90 272.4 425.95)" fill="#000" letter-spacing="0.2">% IL-1RI+</text>
<text x="325.3" y="491.7" font-size="11.6" text-anchor="middle" fill="#000" >-</text>
<text x="354.1" y="491.7" font-size="11.3" text-anchor="middle" fill="#000" >Th1</text>
<text x="383.5" y="491.7" font-size="11.3" text-anchor="middle" fill="#000" >Th17</text>
<text x="418.1" y="491.7" font-size="11.6" text-anchor="middle" fill="#000" >-</text>
<text x="447.5" y="491.7" font-size="11.3" text-anchor="middle" fill="#000" >Th1</text>
<text x="476.1" y="491.7" font-size="11.3" text-anchor="middle" fill="#000" >Th17</text>
<line x1="312.1" y1="496.3" x2="396.7" y2="496.3" stroke="#000" stroke-width="1.5" />
<text x="354.6" y="508.2" font-size="11.6" text-anchor="middle" fill="#000" >Nconv</text>
<line x1="404.2" y1="496.3" x2="489.4" y2="496.3" stroke="#000" stroke-width="1.5" />
<text x="446.05" y="508.2" font-size="11.6" text-anchor="middle" fill="#000" >NTreg</text>
<line x1="321.7" y1="431.25" x2="376.8" y2="431.25" stroke="#000" stroke-width="1.5" />
<text x="349.25" y="426.85" font-size="13.4" text-anchor="middle" fill="#000" >ns</text>
<line x1="373.2" y1="424.5" x2="389.5" y2="424.5" stroke="#000" stroke-width="1.5" />
<text x="381.35" y="420.1" font-size="13.4" text-anchor="middle" fill="#000" >ns</text>
<line x1="415" y1="373.75" x2="470" y2="373.75" stroke="#000" stroke-width="1.5" />
<text x="441.35" y="374.45" font-size="13.5" text-anchor="middle" fill="#000" class="st" letter-spacing="0.9">*</text>
<line x1="466.2" y1="367" x2="482.5" y2="367" stroke="#000" stroke-width="1.5" />
<text x="474.35" y="362.6" font-size="13.4" text-anchor="middle" fill="#000" >ns</text>
<rect x="209" y="519.4" width="10.8" height="10.8" fill="#fff" stroke="#000" stroke-width="1.5"/>
<text x="229.3" y="529.2" font-size="13.7" text-anchor="start" fill="#000" >CD28</text>
<rect x="290.6" y="519.4" width="10.8" height="10.8" fill="#616161" stroke="#000" stroke-width="1.5"/>
<text x="311.1" y="529.2" font-size="13.7" text-anchor="start" fill="#000" >CD5</text>
</svg>
</body></html>
